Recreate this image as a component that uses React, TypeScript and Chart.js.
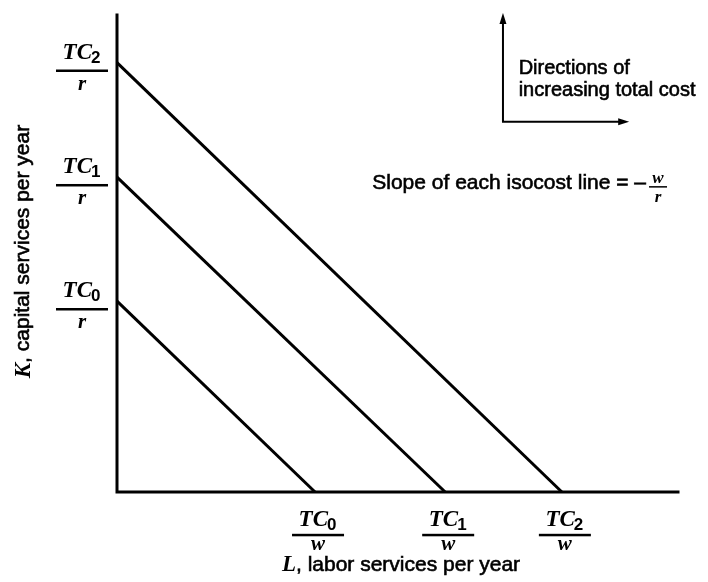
import React, { useEffect, useRef } from "react";
import { Chart, registerables } from "chart.js";

Chart.register(...registerables);

// ---- data (abstract units) ----
const X_MAX = 10;
const Y_MAX = 10;
const costSubscripts = ["0", "1", "2"];
const kIntercepts = [4.0, 6.6, 9.0]; // TC_i / r on the K axis
const lIntercepts = [3.53, 5.85, 7.93]; // TC_i / w on the L axis
const yAxisTitle = ["K", ", capital services per year"];
const xAxisTitle = ["L", ", labor services per year"];
const noteLines = ["Directions of", "increasing total cost"];
const slopeText = "Slope of each isocost line = \u2013";
// annotation anchors (data units)
const arrowOrigin = { x: 6.88, y: 7.76 };
const arrowTips = { x: 9.13, y: 10.04 };
const noteAnchor = { x: 7.16, y1: 8.76, y2: 8.3 };
const slopeAnchor = { x: 4.55, y: 6.35 };

const SANS = '"Liberation Sans", Arial, sans-serif';
const SERIF = '"Liberation Serif", "Times New Roman", serif';

function heavyText(ctx: CanvasRenderingContext2D, t: string, x: number, y: number) {
  ctx.fillText(t, x, y);
  ctx.lineWidth = 0.6;
  ctx.strokeText(t, x, y);
}

function drawTCFrac(
  ctx: CanvasRenderingContext2D,
  cx: number,
  barY: number,
  sub: string,
  den: string,
  numOff: number,
  denOff: number
) {
  ctx.fillStyle = "#000";
  ctx.textBaseline = "alphabetic";
  ctx.textAlign = "left";
  ctx.font = `italic bold 23px ${SERIF}`;
  const w1 = ctx.measureText("TC").width;
  ctx.font = `bold 17px ${SANS}`;
  const w2 = ctx.measureText(sub).width;
  const total = w1 + w2;
  const sx = cx - total / 2;
  ctx.font = `italic bold 23px ${SERIF}`;
  ctx.fillText("TC", sx, barY - numOff);
  ctx.font = `bold 17px ${SANS}`;
  ctx.fillText(sub, sx + w1 - 1, barY - numOff + 4);
  ctx.fillRect(cx - 26, barY - 1.2, 52, 2.5);
  ctx.font = `italic bold 21px ${SERIF}`;
  ctx.textAlign = "center";
  ctx.fillText(den, cx, barY + denOff);
}

function arrowHead(
  ctx: CanvasRenderingContext2D,
  x: number,
  y: number,
  dx: number,
  dy: number
) {
  const len = 11;
  const hw = 3.5;
  const px = -dy;
  const py = dx;
  ctx.beginPath();
  ctx.moveTo(x, y);
  ctx.lineTo(x - dx * len + px * hw, y - dy * len + py * hw);
  ctx.lineTo(x - dx * len - px * hw, y - dy * len - py * hw);
  ctx.closePath();
  ctx.fill();
}

const decorPlugin = {
  id: "decor",
  afterDatasetsDraw(chart: any) {
    const ctx: CanvasRenderingContext2D = chart.ctx;
    const xs = chart.scales.x;
    const ys = chart.scales.y;
    const x0 = xs.getPixelForValue(0);
    const y0 = ys.getPixelForValue(0);
    const xR = xs.getPixelForValue(X_MAX);
    const yT = ys.getPixelForValue(Y_MAX);
    ctx.save();
    ctx.strokeStyle = "#000";
    ctx.fillStyle = "#000";
    // axes
    ctx.lineWidth = 3;
    ctx.lineCap = "square";
    ctx.beginPath();
    ctx.moveTo(x0, yT);
    ctx.lineTo(x0, y0);
    ctx.lineTo(xR, y0);
    ctx.stroke();

    kIntercepts.forEach((k, i) => {
      const py = ys.getPixelForValue(k);
      drawTCFrac(ctx, x0 - 35, py + 8, costSubscripts[i], "r", 12, 19);
    });
    lIntercepts.forEach((l, i) => {
      const px = xs.getPixelForValue(l);
      drawTCFrac(ctx, px + 3, y0 + 43, costSubscripts[i], "w", 9, 15);
    });

    // y axis title
    ctx.save();
    const yc = (yT + y0) / 2 - 2;
    ctx.translate(x0 - 94, yc);
    ctx.rotate(-Math.PI / 2);
    ctx.textBaseline = "middle";
    ctx.textAlign = "left";
    ctx.font = `italic bold 23px ${SERIF}`;
    const ka = ctx.measureText(yAxisTitle[0]).width;
    ctx.font = `21px ${SANS}`;
    const kb = ctx.measureText(yAxisTitle[1]).width;
    let sx = -(ka + kb) / 2;
    ctx.font = `italic bold 23px ${SERIF}`;
    ctx.fillText(yAxisTitle[0], sx, 1);
    ctx.font = `21px ${SANS}`;
    heavyText(ctx, yAxisTitle[1], sx + ka, 0);
    ctx.restore();

    // x axis title
    ctx.textBaseline = "alphabetic";
    ctx.textAlign = "left";
    ctx.font = `italic bold 23px ${SERIF}`;
    const la = ctx.measureText(xAxisTitle[0]).width;
    ctx.font = `21px ${SANS}`;
    const lb = ctx.measureText(xAxisTitle[1]).width;
    const xc = 401;
    sx = xc - (la + lb) / 2;
    ctx.font = `italic bold 23px ${SERIF}`;
    ctx.fillText(xAxisTitle[0], sx, y0 + 79);
    ctx.font = `21px ${SANS}`;
    heavyText(ctx, xAxisTitle[1], sx + la, y0 + 79);

    // direction arrows
    const ax = xs.getPixelForValue(arrowOrigin.x);
    const ay = ys.getPixelForValue(arrowOrigin.y);
    const tx = xs.getPixelForValue(arrowTips.x);
    const ty = ys.getPixelForValue(arrowTips.y);
    ctx.lineWidth = 2;
    ctx.lineCap = "butt";
    ctx.beginPath();
    ctx.moveTo(ax, ty + 6);
    ctx.lineTo(ax, ay);
    ctx.lineTo(tx - 6, ay);
    ctx.stroke();
    arrowHead(ctx, ax, ty, 0, -1);
    arrowHead(ctx, tx, ay, 1, 0);

    // note
    ctx.font = `20px ${SANS}`;
    const nx = xs.getPixelForValue(noteAnchor.x);
    heavyText(ctx, noteLines[0], nx, ys.getPixelForValue(noteAnchor.y1));
    heavyText(ctx, noteLines[1], nx, ys.getPixelForValue(noteAnchor.y2));

    // slope text
    const sx2 = xs.getPixelForValue(slopeAnchor.x);
    const sy2 = ys.getPixelForValue(slopeAnchor.y);
    ctx.font = `21px ${SANS}`;
    heavyText(ctx, slopeText, sx2, sy2);
    const sw = ctx.measureText(slopeText).width;
    const fcx = sx2 + sw + 12;
    ctx.textAlign = "center";
    ctx.font = `italic bold 17px ${SERIF}`;
    ctx.fillText("w", fcx, sy2 - 6);
    ctx.fillRect(fcx - 9, sy2 - 3, 18, 1.5);
    ctx.fillText("r", fcx, sy2 + 13);
    ctx.restore();
  },
};

export default function App() {
  const ref = useRef<HTMLCanvasElement>(null);
  useEffect(() => {
    document.body.style.margin = "0";
    const canvas = ref.current;
    if (!canvas) return;
    const datasets = kIntercepts.map((k, i) => ({
      label: "TC" + costSubscripts[i],
      data: [
        { x: 0, y: k },
        { x: lIntercepts[i], y: 0 },
      ],
      borderColor: "#000",
      borderWidth: 3,
      pointRadius: 0,
      fill: false,
      tension: 0,
      clip: false as any,
    }));
    const chart = new Chart(canvas, {
      type: "line",
      data: { datasets },
      options: {
        animation: false,
        responsive: false,
        maintainAspectRatio: false,
        layout: { padding: { left: 117, right: 30, top: 15, bottom: 90 } },
        plugins: { legend: { display: false }, tooltip: { enabled: false } },
        scales: {
          x: { type: "linear", min: 0, max: X_MAX, display: false },
          y: { type: "linear", min: 0, max: Y_MAX, display: false },
        },
      },
      plugins: [decorPlugin],
    });
    return () => chart.destroy();
  }, []);
  return (
    <div style={{ position: "fixed", left: 0, top: 0, width: 708, height: 582, background: "#fff" }}>
      <canvas ref={ref} width={708} height={582} style={{ width: 708, height: 582 }} />
    </div>
  );
}
